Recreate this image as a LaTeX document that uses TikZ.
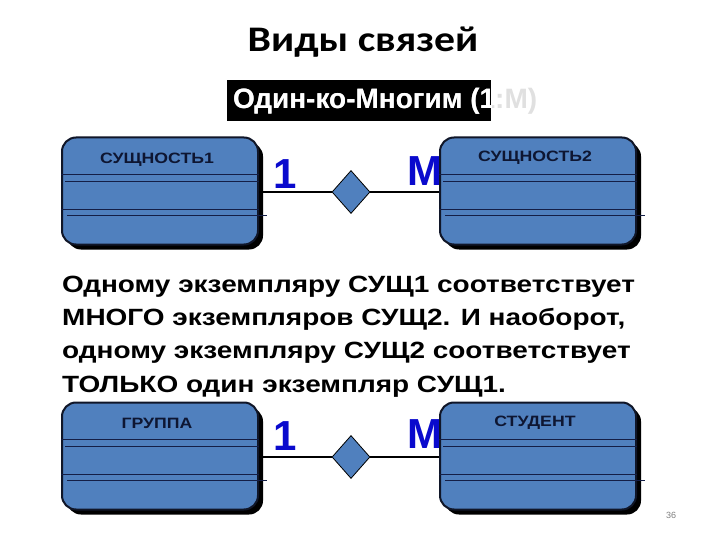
\documentclass[tikz,border=0pt]{standalone}
\usepackage{fontspec}
\setmainfont{Liberation Sans}
\newfontfamily\titlefont{Carlito}
\usetikzlibrary{shapes.geometric,shadows}
\definecolor{boxblue}{RGB}{80,128,190}
\definecolor{boxedge}{RGB}{16,22,40}
\definecolor{innerline}{RGB}{20,30,70}
\definecolor{labnavy}{RGB}{14,22,50}
\definecolor{cardblue}{RGB}{10,10,205}
\tikzset{
  entity/.style={draw=boxedge, line width=2pt, fill=boxblue, rounded corners=14pt,
    minimum width=196pt, minimum height=107pt, inner sep=0pt,
    drop shadow={shadow xshift=5pt, shadow yshift=-5pt, fill=black, opacity=1}},
  entlabel/.style={font=\fontsize{15}{15}\selectfont\bfseries, text=labnavy, xscale=1.18, inner sep=0pt},
  rel/.style={diamond, draw=black, line width=0.8pt, fill=boxblue, inner sep=0pt,
    minimum width=38pt, minimum height=43pt},
  conn/.style={draw=black, line width=1.3pt},
  sepline/.style={draw=innerline, line width=1.3pt},
  card/.style={font=\fontsize{42}{42}\selectfont\bfseries, text=cardblue, inner sep=0pt},
  paraline/.style={font=\fontsize{23.5}{23.5}\selectfont\bfseries, inner sep=0pt, anchor=base west, xscale=1.19},
  subtext/.style={font=\fontsize{28}{28}\selectfont\bfseries, inner sep=0pt, anchor=west}
}
\newcommand{\entitylines}[1]{%
  \draw[sepline] ([yshift=-38pt]#1.north west) -- ([yshift=-38pt]#1.north east);
  \draw[sepline] ([xshift=4pt,yshift=-45pt]#1.north west) -- ([yshift=-45pt]#1.north east);
  \draw[sepline] ([yshift=-73pt]#1.north west) -- ([yshift=-73pt]#1.north east);
  \draw[sepline] ([xshift=6pt,yshift=-79pt]#1.north west) -- ([xshift=8pt,yshift=-79pt]#1.north east);
}
\begin{document}
\begin{tikzpicture}[x=1pt,y=-1pt]
\useasboundingbox[fill=white] (0,0) rectangle (720,540);
% title
\node[font=\titlefont\fontsize{36}{36}\selectfont\bfseries, inner sep=0pt, xscale=1.16] (title) at (363,42) {Виды связей};
% subtitle
\fill[black] (227,80) rectangle (491,121);
\node[subtext, text=black!12] (sub) at (233,101) {Один-ко-Многим (1:М)};
\begin{scope}
\clip (227,80) rectangle (491,121);
\node[subtext, text=white] (subw) at (233,101) {Один-ко-Многим (1:М)};
\end{scope}
% upper diagram
\node[entity] (e1) at (160,191) {};
\entitylines{e1}
\node[entlabel] (l1) at (157,160) {СУЩНОСТЬ1};
\node[rel] (r1) at (351,192) {};
\draw[conn] (e1.east |- r1.west) -- (r1.west);
\node[card] (c1a) at (285,174) {1};
\node[card] (c1b) at (425,171) {М};
\draw[conn] (r1.east) -- (440,192);
\node[entity] (e2) at (538,191) {};
\entitylines{e2}
\node[entlabel] (l2) at (535,158) {СУЩНОСТЬ2};
% paragraph
\node[paraline] (t1) at (62,292) {Одному экземпляру СУЩ1 соответствует};
\node[paraline] (t2) at (62,325.3) {МНОГО экземпляров СУЩ2. И наоборот,};
\node[paraline] (t3) at (62,358.6) {одному экземпляру СУЩ2 соответствует};
\node[paraline] (t4) at (62,392) {ТОЛЬКО один экземпляр СУЩ1.};
% lower diagram
\node[entity] (e3) at (160,456) {};
\entitylines{e3}
\node[entlabel] (l3) at (157,423) {ГРУППА};
\node[rel] (r2) at (351,457) {};
\draw[conn] (e3.east |- r2.west) -- (r2.west);
\node[card] (c2a) at (285,436) {1};
\node[card] (c2b) at (425,434) {М};
\draw[conn] (r2.east) -- (440,457);
\node[entity] (e4) at (538,456) {};
\entitylines{e4}
\node[entlabel] (l4) at (535,423) {СТУДЕНТ};
% page number
\node[font=\fontsize{9}{9}\selectfont, text=black!50, inner sep=0pt] (pg) at (671,515) {36};
\end{tikzpicture}
\end{document}
